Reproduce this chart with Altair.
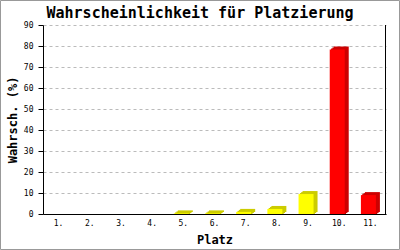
import altair as alt
import pandas as pd

places = ["1.", "2.", "3.", "4.", "5.", "6.", "7.", "8.", "9.", "10.", "11."]
probs = [0, 0, 0, 0, 0.3, 0.3, 1.0, 2.4, 9.5, 78.3, 9.0]
front_colors = ["#ffff00"] * 9 + ["#ff0000"] * 2
side_colors = ["#cccc00"] * 9 + ["#cc0000"] * 2
y_ticks = [0, 10, 20, 30, 40, 50, 60, 70, 80, 90]

df = pd.DataFrame({"platz": places, "wert": probs, "front": front_colors, "side": side_colors})

W, H = 343, 189
MONO = "DejaVu Sans Mono"

x = alt.X(
    "platz:N", sort=places,
    scale=alt.Scale(paddingInner=0, paddingOuter=0),
    axis=alt.Axis(title="Platz", labelAngle=0, ticks=False, domainColor="black",
                  labelFont=MONO, labelFontSize=8, labelColor="black", labelPadding=5,
                  titleFont=MONO, titleFontSize=12, titleFontWeight="bold", titleColor="black",
                  titleY=29, titleBaseline="alphabetic", grid=False),
)
y = alt.Y(
    "wert:Q",
    scale=alt.Scale(domain=[0, 90], nice=False),
    axis=alt.Axis(title="Wahrsch. (%)", values=y_ticks, domainColor="black", tickColor="black",
                  tickSize=5, labelFont=MONO, labelFontSize=8, labelColor="black", labelPadding=5,
                  gridColor="#bbbbbb", gridDash=[3, 3],
                  titleFont=MONO, titleFontSize=12, titleFontWeight="bold", titleColor="black",
                  titleX=-31, titleY=H / 2, titleBaseline="middle", titleAlign="center"),
)

layers = []
for j in (3, 2, 1):
    layers.append(
        alt.Chart(df).transform_filter("datum.wert > 0")
        .mark_bar(width=15, xOffset=-2 + j * 4 / 3, yOffset=-j, y2Offset=-(j - 1), strokeWidth=0)
        .encode(x=x, y=y, y2=alt.datum(0), color=alt.Color("side:N", scale=None))
    )
front = alt.Chart(df).mark_bar(width=15, xOffset=-2, strokeWidth=0).encode(
    x=x, y=y, y2=alt.datum(0), color=alt.Color("front:N", scale=None)
)
frame_right = alt.Chart(pd.DataFrame({"a": [0]})).mark_rule(color="black", strokeWidth=1).encode(
    x=alt.value(W - 0.5), y=alt.value(0), y2=alt.value(H)
)
border = alt.Chart(pd.DataFrame({"a": [0]})).mark_rect(
    fillOpacity=0, stroke="#999999", strokeWidth=1
).encode(x=alt.value(-42.5), x2=alt.value(356.5), y=alt.value(-24.5), y2=alt.value(224.5))

chart = alt.layer(*layers, front, frame_right, border).properties(
    width=W, height=H,
    autosize=alt.AutoSizeParams(type="none"),
    padding={"left": 43, "top": 25, "right": 14, "bottom": 36},
    title=alt.TitleParams("Wahrscheinlichkeit für Platzierung", font=MONO, fontSize=15,
                          fontWeight="bold", anchor="middle", baseline="alphabetic",
                          offset=7.5, dy=40.5, dx=-14.5, color="black"),
    background="white",
).configure_view(strokeWidth=0)

chart.save("out.html", embed_options={"renderer": "svg", "actions": False})
